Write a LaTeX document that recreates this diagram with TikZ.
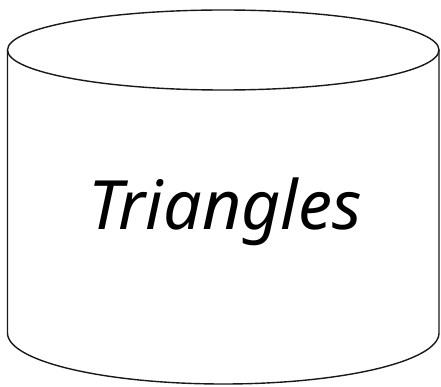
\documentclass[tikz,border=0pt]{standalone}
\usepackage{fontspec}
\setmainfont{Noto Sans}
\begin{document}
\begin{tikzpicture}[x=1pt,y=1pt,
  cyl/.style={draw=black!90, line width=1.4pt, fill=white},
  lbl/.style={font=\fontsize{68}{68}\selectfont\itshape, inner sep=0pt, anchor=base}]
\useasboundingbox (0,0) rectangle (441,386);
\draw[cyl] (7.5,336) -- (7.5,53) arc[start angle=180, end angle=360, x radius=215.75, y radius=51] -- (439,336);
\draw[cyl] (223.25,336) ellipse[x radius=215.75, y radius=40];
\node[lbl] (t) at (225,157) {Triangles};
\end{tikzpicture}
\end{document}
